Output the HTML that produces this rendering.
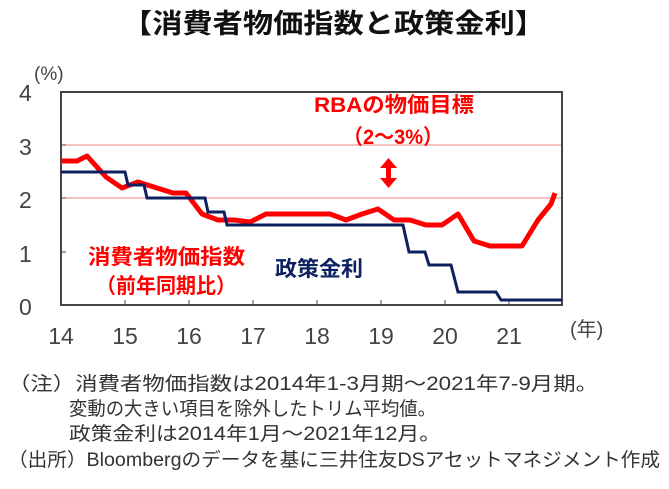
<!DOCTYPE html>
<html><head><meta charset="utf-8"><style>
body{margin:0;background:#fff;width:669px;height:489px;overflow:hidden;font-family:"Liberation Sans","Noto Sans CJK JP",sans-serif}
</style></head><body>
<svg width="669" height="489" xmlns="http://www.w3.org/2000/svg" style="position:absolute;left:0;top:0">
<text x="122" y="33" textLength="423" lengthAdjust="spacingAndGlyphs" font-size="27" font-weight="bold" fill="#111" font-family="Liberation Sans,Noto Sans CJK JP,sans-serif">【消費者物価指数と政策金利】</text>
<g font-size="23" fill="#444" font-family="Liberation Sans,Noto Sans CJK JP,sans-serif">
<text x="19" y="101">4</text><text x="19" y="155">3</text><text x="19" y="208">2</text><text x="19" y="262">1</text><text x="19" y="315">0</text>
<text x="34" y="80" font-size="19">(%)</text>
<text x="61" y="344" text-anchor="middle">14</text><text x="125" y="344" text-anchor="middle">15</text><text x="189" y="344" text-anchor="middle">16</text><text x="253" y="344" text-anchor="middle">17</text><text x="317" y="344" text-anchor="middle">18</text><text x="381" y="344" text-anchor="middle">19</text><text x="445" y="344" text-anchor="middle">20</text><text x="509" y="344" text-anchor="middle">21</text>
<text x="570" y="336" font-size="20">(年)</text>
</g>
<line x1="61" y1="145" x2="562" y2="145" stroke="#f08080" stroke-width="1"/>
<line x1="61" y1="198" x2="562" y2="198" stroke="#f08080" stroke-width="1"/>
<g stroke="#444" stroke-width="1">
<line x1="125" y1="300" x2="125" y2="305"/><line x1="189" y1="300" x2="189" y2="305"/><line x1="253" y1="300" x2="253" y2="305"/><line x1="317" y1="300" x2="317" y2="305"/><line x1="381" y1="300" x2="381" y2="305"/><line x1="445" y1="300" x2="445" y2="305"/><line x1="509" y1="300" x2="509" y2="305"/>
<line x1="61" y1="145" x2="66" y2="145"/><line x1="61" y1="198" x2="66" y2="198"/><line x1="61" y1="252" x2="66" y2="252"/>
</g>
<rect x="61" y="92" width="501" height="213" fill="none" stroke="#444" stroke-width="2"/>
<polyline fill="none" stroke="#f00" stroke-width="5" stroke-linejoin="round" points="61,161 77,161 87,156 106,177 122,188 138,182 157,188 173,193 186,193 202,214 218,220 234,220 250,222 266,214 330,214 346,220 362,214 378,209 394,220 410,220 426,225 442,225 458,214 474,241 490,246 522,246 538,220 551,204 555,193"/>
<polyline fill="none" stroke="#0d2060" stroke-width="3" points="61,172 125,172 128,185 144,185 147,198 205,198 208,212 224,212 227,225 403,225 409,252 425,252 429,265 451,265 458,292 496,292 501,300 562,300"/>
<g fill="#f00">
<rect x="386" y="166" width="5" height="14"/>
<polygon points="380,168 397,168 388.5,158"/>
<polygon points="380,178 397,178 388.5,188"/>
</g>
<g font-weight="bold" font-size="21" font-family="Liberation Sans,Noto Sans CJK JP,sans-serif" lengthAdjust="spacingAndGlyphs">
<text x="314" y="112" textLength="160" lengthAdjust="spacingAndGlyphs" fill="#f00">RBAの物価目標</text>
<text x="343" y="144" textLength="100" lengthAdjust="spacingAndGlyphs" fill="#f00">（2～3%）</text>
<text x="88" y="264" textLength="157" lengthAdjust="spacingAndGlyphs" fill="#f00">消費者物価指数</text>
<text x="96" y="293" textLength="140" lengthAdjust="spacingAndGlyphs" fill="#f00">（前年同期比）</text>
<text x="275" y="276" textLength="88" lengthAdjust="spacingAndGlyphs" fill="#0d2060">政策金利</text>
</g>
<g font-size="19" fill="#333" font-family="Liberation Sans,Noto Sans CJK JP,sans-serif">
<text x="8" y="390" textLength="590" lengthAdjust="spacingAndGlyphs">（注）消費者物価指数は2014年1-3月期～2021年7-9月期。</text>
<text x="69" y="415" textLength="367" lengthAdjust="spacingAndGlyphs">変動の大きい項目を除外したトリム平均値。</text>
<text x="69" y="440" textLength="372" lengthAdjust="spacingAndGlyphs">政策金利は2014年1月～2021年12月。</text>
<text x="8" y="466" textLength="652" lengthAdjust="spacingAndGlyphs">（出所）Bloombergのデータを基に三井住友DSアセットマネジメント作成</text>
</g>
</svg>
</body></html>
